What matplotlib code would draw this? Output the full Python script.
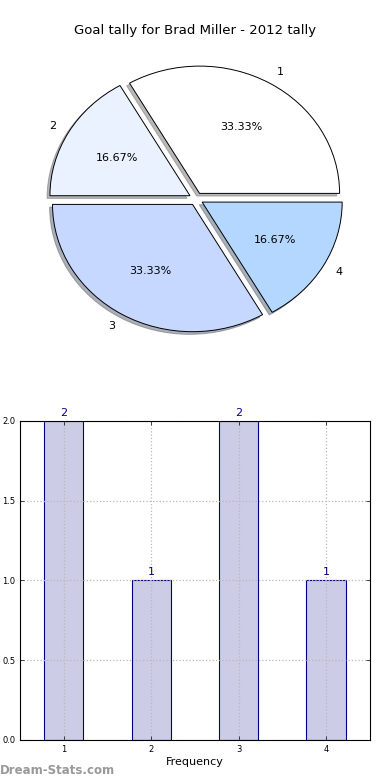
import matplotlib
matplotlib.use("Agg")
import matplotlib.pyplot as plt

title = "Goal tally for Brad Miller - 2012 tally"
categories = ["1", "2", "3", "4"]
counts = [2, 1, 2, 1]
pie_colors = ["#ffffff", "#eaf1ff", "#c6d8ff", "#b3d7ff"]
yticks = [0.0, 0.5, 1.0, 1.5, 2.0]

fig = plt.figure(figsize=(3.9, 7.8), dpi=100)

# Pie
ax1 = fig.add_axes([0.1077, 0.5655, 0.79, 0.359])
ax1.pie(counts, labels=categories, colors=pie_colors, explode=[0.05] * 4,
        autopct="%.2f%%", startangle=0, pctdistance=0.6, labeldistance=1.1,
        shadow={"ox": -0.015, "oy": -0.015, "shade": 0.55},
        wedgeprops={"edgecolor": "black", "linewidth": 0.7},
        textprops={"fontsize": 8})
ax1.set_aspect("auto")
ax1.set_xlim(-1.1, 1.1)
ax1.set_ylim(-1.1, 1.1)
ax1.axis("off")
fig.text(0.5, 0.961, title, ha="center", va="center", fontsize=9.5)

# Bars
ax2 = fig.add_axes([0.0513, 0.0513, 0.897, 0.409])
x = [int(c) for c in categories]
ax2.set_axisbelow("line")
bars = ax2.bar(x, counts, width=0.45, color="#ccccE6", edgecolor="#000080",
               linewidth=0.8, zorder=1)
for xi, v in zip(x, counts):
    ax2.text(xi, v + 0.02, str(v), ha="center", va="bottom", fontsize=8,
             color="#000080")
ax2.set_xlim(0.5, 4.5)
ax2.set_ylim(0, 2.0)
ax2.set_xticks(x)
ax2.set_xticklabels(categories)
ax2.set_yticks(yticks)
ax2.set_yticklabels([f"{t:.1f}" for t in yticks])
ax2.tick_params(labelsize=6, direction="in", length=3, top=True, right=True,
                width=0.5)
ax2.grid(True, linestyle=":", color="#b8b8b8", linewidth=0.9)
ax2.set_xlabel("Frequency", fontsize=8, labelpad=2)
for s in ax2.spines.values():
    s.set_linewidth(0.8)
    s.set_zorder(3)

fig.text(0.0, 0.0128, "Dream-Stats.com", ha="left", va="center", fontsize=8.5,
         color="#999999", fontweight="bold")

fig.savefig("out.png", dpi=100)
